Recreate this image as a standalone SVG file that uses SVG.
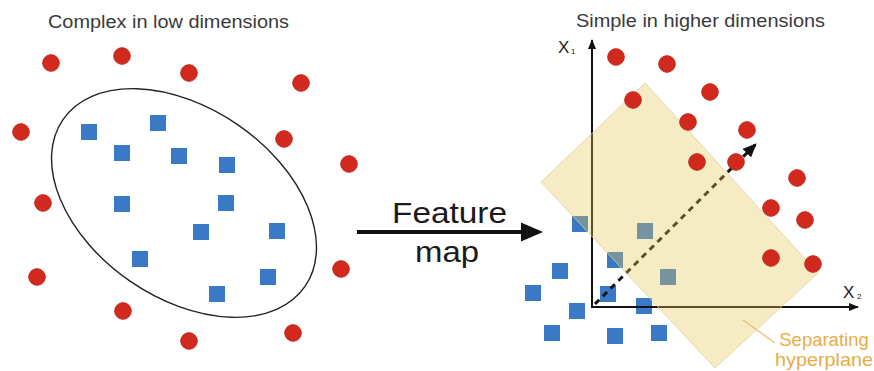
<svg xmlns="http://www.w3.org/2000/svg" width="874" height="371" viewBox="0 0 874 371">
<style>
.t{font-family:"Liberation Sans",Arial,sans-serif;}
.title{font-size:18px;fill:#3a3a3a;}
.big{font-size:29px;fill:#1a1a1a;}
.ax{font-size:17px;fill:#222;}
.sub{font-size:8px;fill:#222;}
.org{font-size:18.5px;fill:#e9ac45;}
.c{fill:#d2291f;stroke:#c42419;stroke-width:1;}
.s{fill:#3a79c6;}
.line{stroke:#111;fill:none;}
</style>
<defs>
<circle id="dot" r="8.3" class="c"/>
<rect id="sq" x="-8" y="-8" width="16" height="16" class="s"/>
<marker id="ah" markerWidth="10" markerHeight="10" refX="9" refY="5" orient="auto" markerUnits="userSpaceOnUse"><path d="M0,1 L10,5 L0,9 Z" fill="#111"/></marker>
<marker id="ah2" markerWidth="14" markerHeight="12" refX="13" refY="6" orient="auto" markerUnits="userSpaceOnUse"><path d="M0,0 L14,6 L0,12 Z" fill="#111"/></marker>
</defs>
<rect width="874" height="371" fill="#fff"/>

<g id="title-left"><text class="t title" x="48" y="28" textLength="241" lengthAdjust="spacingAndGlyphs">Complex in low dimensions</text></g>
<g id="title-right"><text class="t title" x="576" y="27" textLength="249" lengthAdjust="spacingAndGlyphs">Simple in higher dimensions</text></g>

<g id="left-boundary"><ellipse cx="184" cy="203" rx="147" ry="95" transform="rotate(34.6 184 203)" fill="none" stroke="#222" stroke-width="1.4"/></g>

<g id="left-circles">
<use href="#dot" x="51" y="63"/><use href="#dot" x="122" y="56"/><use href="#dot" x="189" y="73"/>
<use href="#dot" x="301" y="83"/><use href="#dot" x="21" y="132"/><use href="#dot" x="284" y="139"/>
<use href="#dot" x="349" y="164"/><use href="#dot" x="43" y="203"/><use href="#dot" x="37" y="277"/>
<use href="#dot" x="123" y="311"/><use href="#dot" x="189" y="341"/><use href="#dot" x="293" y="333"/>
<use href="#dot" x="341" y="269"/>
</g>
<g id="left-squares">
<use href="#sq" x="89" y="132"/><use href="#sq" x="158" y="123"/><use href="#sq" x="122" y="153"/>
<use href="#sq" x="179" y="156"/><use href="#sq" x="227" y="165"/><use href="#sq" x="122" y="204"/>
<use href="#sq" x="226" y="203"/><use href="#sq" x="201" y="232"/><use href="#sq" x="277" y="231"/>
<use href="#sq" x="140" y="259"/><use href="#sq" x="268" y="277"/><use href="#sq" x="217" y="294"/>
</g>

<g id="feature-map-label">
<text class="t big" x="392" y="223" textLength="115" lengthAdjust="spacingAndGlyphs">Feature</text>
<text class="t big" x="415" y="262" textLength="64" lengthAdjust="spacingAndGlyphs">map</text>
</g>

<g id="right-squares">
<use href="#sq" x="580" y="224"/><use href="#sq" x="645" y="231"/><use href="#sq" x="560" y="271"/>
<use href="#sq" x="615" y="260"/><use href="#sq" x="668" y="277"/><use href="#sq" x="533" y="293"/>
<use href="#sq" x="608" y="294"/><use href="#sq" x="577" y="311"/><use href="#sq" x="644" y="306"/>
<use href="#sq" x="552" y="333"/><use href="#sq" x="615" y="336"/><use href="#sq" x="659" y="333"/>
</g>

<g id="connectors">
<line class="line" x1="357" y1="232" x2="524" y2="232" stroke-width="4"/>
<path d="M521,222.5 L543,232 L521,241.5 Z" fill="#111"/>
<line class="line" x1="592" y1="307" x2="592" y2="40" stroke-width="2" marker-end="url(#ah)"/>
<line class="line" x1="591" y1="307" x2="858" y2="307" stroke-width="2" marker-end="url(#ah)"/>
<line class="line" x1="595" y1="304" x2="756" y2="144" stroke-width="3" stroke-dasharray="6 5" marker-end="url(#ah2)"/>
<line x1="743" y1="320" x2="775" y2="343" stroke="#ecbd6a" stroke-width="1.2"/>
</g>

<g id="hyperplane"><polygon points="645,83 818,273 715,368 541,182" fill="#e5c856" fill-opacity="0.35" stroke="#e0cf9c" stroke-width="0.8"/></g>

<g id="right-circles">
<use href="#dot" x="616" y="57"/><use href="#dot" x="667" y="64"/><use href="#dot" x="710" y="92"/>
<use href="#dot" x="633" y="100"/><use href="#dot" x="688" y="122"/><use href="#dot" x="747" y="130"/>
<use href="#dot" x="697" y="162"/><use href="#dot" x="736" y="162"/><use href="#dot" x="797" y="178"/>
<use href="#dot" x="771" y="208"/><use href="#dot" x="805" y="220"/><use href="#dot" x="771" y="258"/>
<use href="#dot" x="813" y="264"/>
</g>

<g id="axis-labels">
<text class="t ax" x="558" y="53">X</text><text class="t sub" x="571" y="54">1</text>
<text class="t ax" x="843" y="298">X</text><text class="t sub" x="857" y="299">2</text>
</g>
<g id="hyperplane-label">
<text class="t org" x="824" y="346" text-anchor="middle">Separating</text>
<text class="t org" x="824" y="366" text-anchor="middle" textLength="98" lengthAdjust="spacingAndGlyphs">hyperplane</text>
</g>
</svg>
